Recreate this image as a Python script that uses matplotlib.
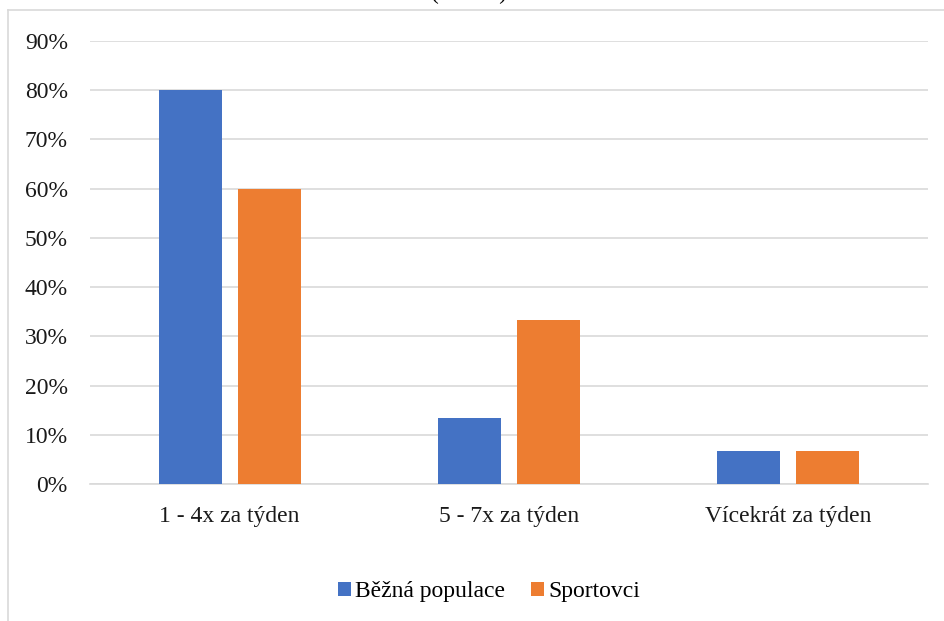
import matplotlib
matplotlib.use("Agg")
from matplotlib import pyplot as plt
from matplotlib.lines import Line2D
from matplotlib.ticker import PercentFormatter
import numpy as np

# data
categories = ["1 - 4x za týden", "5 - 7x za týden", "Vícekrát za týden"]
bezna_populace = [0.80, 0.1333, 0.0667]
sportovci = [0.60, 0.3333, 0.0667]
series_names = ["Běžná populace", "Sportovci"]
title_text = "(n = 30)"

BLUE = "#4472C4"
ORANGE = "#ED7D31"
GRID = "#D9D9D9"

plt.rcParams['font.family'] = ['Liberation Serif', 'DejaVu Serif']

W, H = 944, 621
fig = plt.figure(figsize=(W / 100, H / 100), dpi=100)

# outer chart frame: only the top and left edges are inside the image
fig.lines.append(Line2D([8 / W, 1.0], [(H - 10) / H, (H - 10) / H],
                        transform=fig.transFigure, color=GRID, linewidth=1.2))
fig.lines.append(Line2D([8 / W, 8 / W], [0.0, (H - 10) / H],
                        transform=fig.transFigure, color=GRID, linewidth=1.2))

ax = fig.add_axes([90 / W, (H - 484) / H, (928 - 90) / W, (484 - 41) / H])

x = np.arange(len(categories))
width = 0.2256
offset = 0.1414
ax.bar(x - offset, bezna_populace, width, color=BLUE, label=series_names[0], zorder=3)
ax.bar(x + offset, sportovci, width, color=ORANGE, label=series_names[1], zorder=3)

ax.set_xlim(-0.5, len(categories) - 0.5)
ax.set_ylim(0, 0.9)
ax.set_yticks(np.arange(0, 0.91, 0.1))
ax.yaxis.set_major_formatter(PercentFormatter(1.0, decimals=0))
ax.set_xticks(x)
ax.set_xticklabels(categories)
ax.tick_params(axis='both', length=0, labelsize=17, colors="#1a1a1a")
ax.tick_params(axis='y', pad=16)
ax.tick_params(axis='x', pad=16)

ax.grid(axis='y', color=GRID, linewidth=1.2, zorder=0)
for s in ["top", "right", "left"]:
    ax.spines[s].set_visible(False)
ax.spines["bottom"].set_color(GRID)
ax.spines["bottom"].set_linewidth(1.2)

fig.legend(loc="center", bbox_to_anchor=(489 / W, (H - 592) / H), ncol=2,
           frameon=False, fontsize=17, handlelength=0.55, handleheight=0.55,
           handletextpad=0.17, columnspacing=1.1)

# title sits mostly above the visible area, as in the reference crop
fig.text(469 / W, (H + 0.5) / H, title_text, ha="center", va="baseline", fontsize=17)

fig.savefig("out.png", dpi=100)
